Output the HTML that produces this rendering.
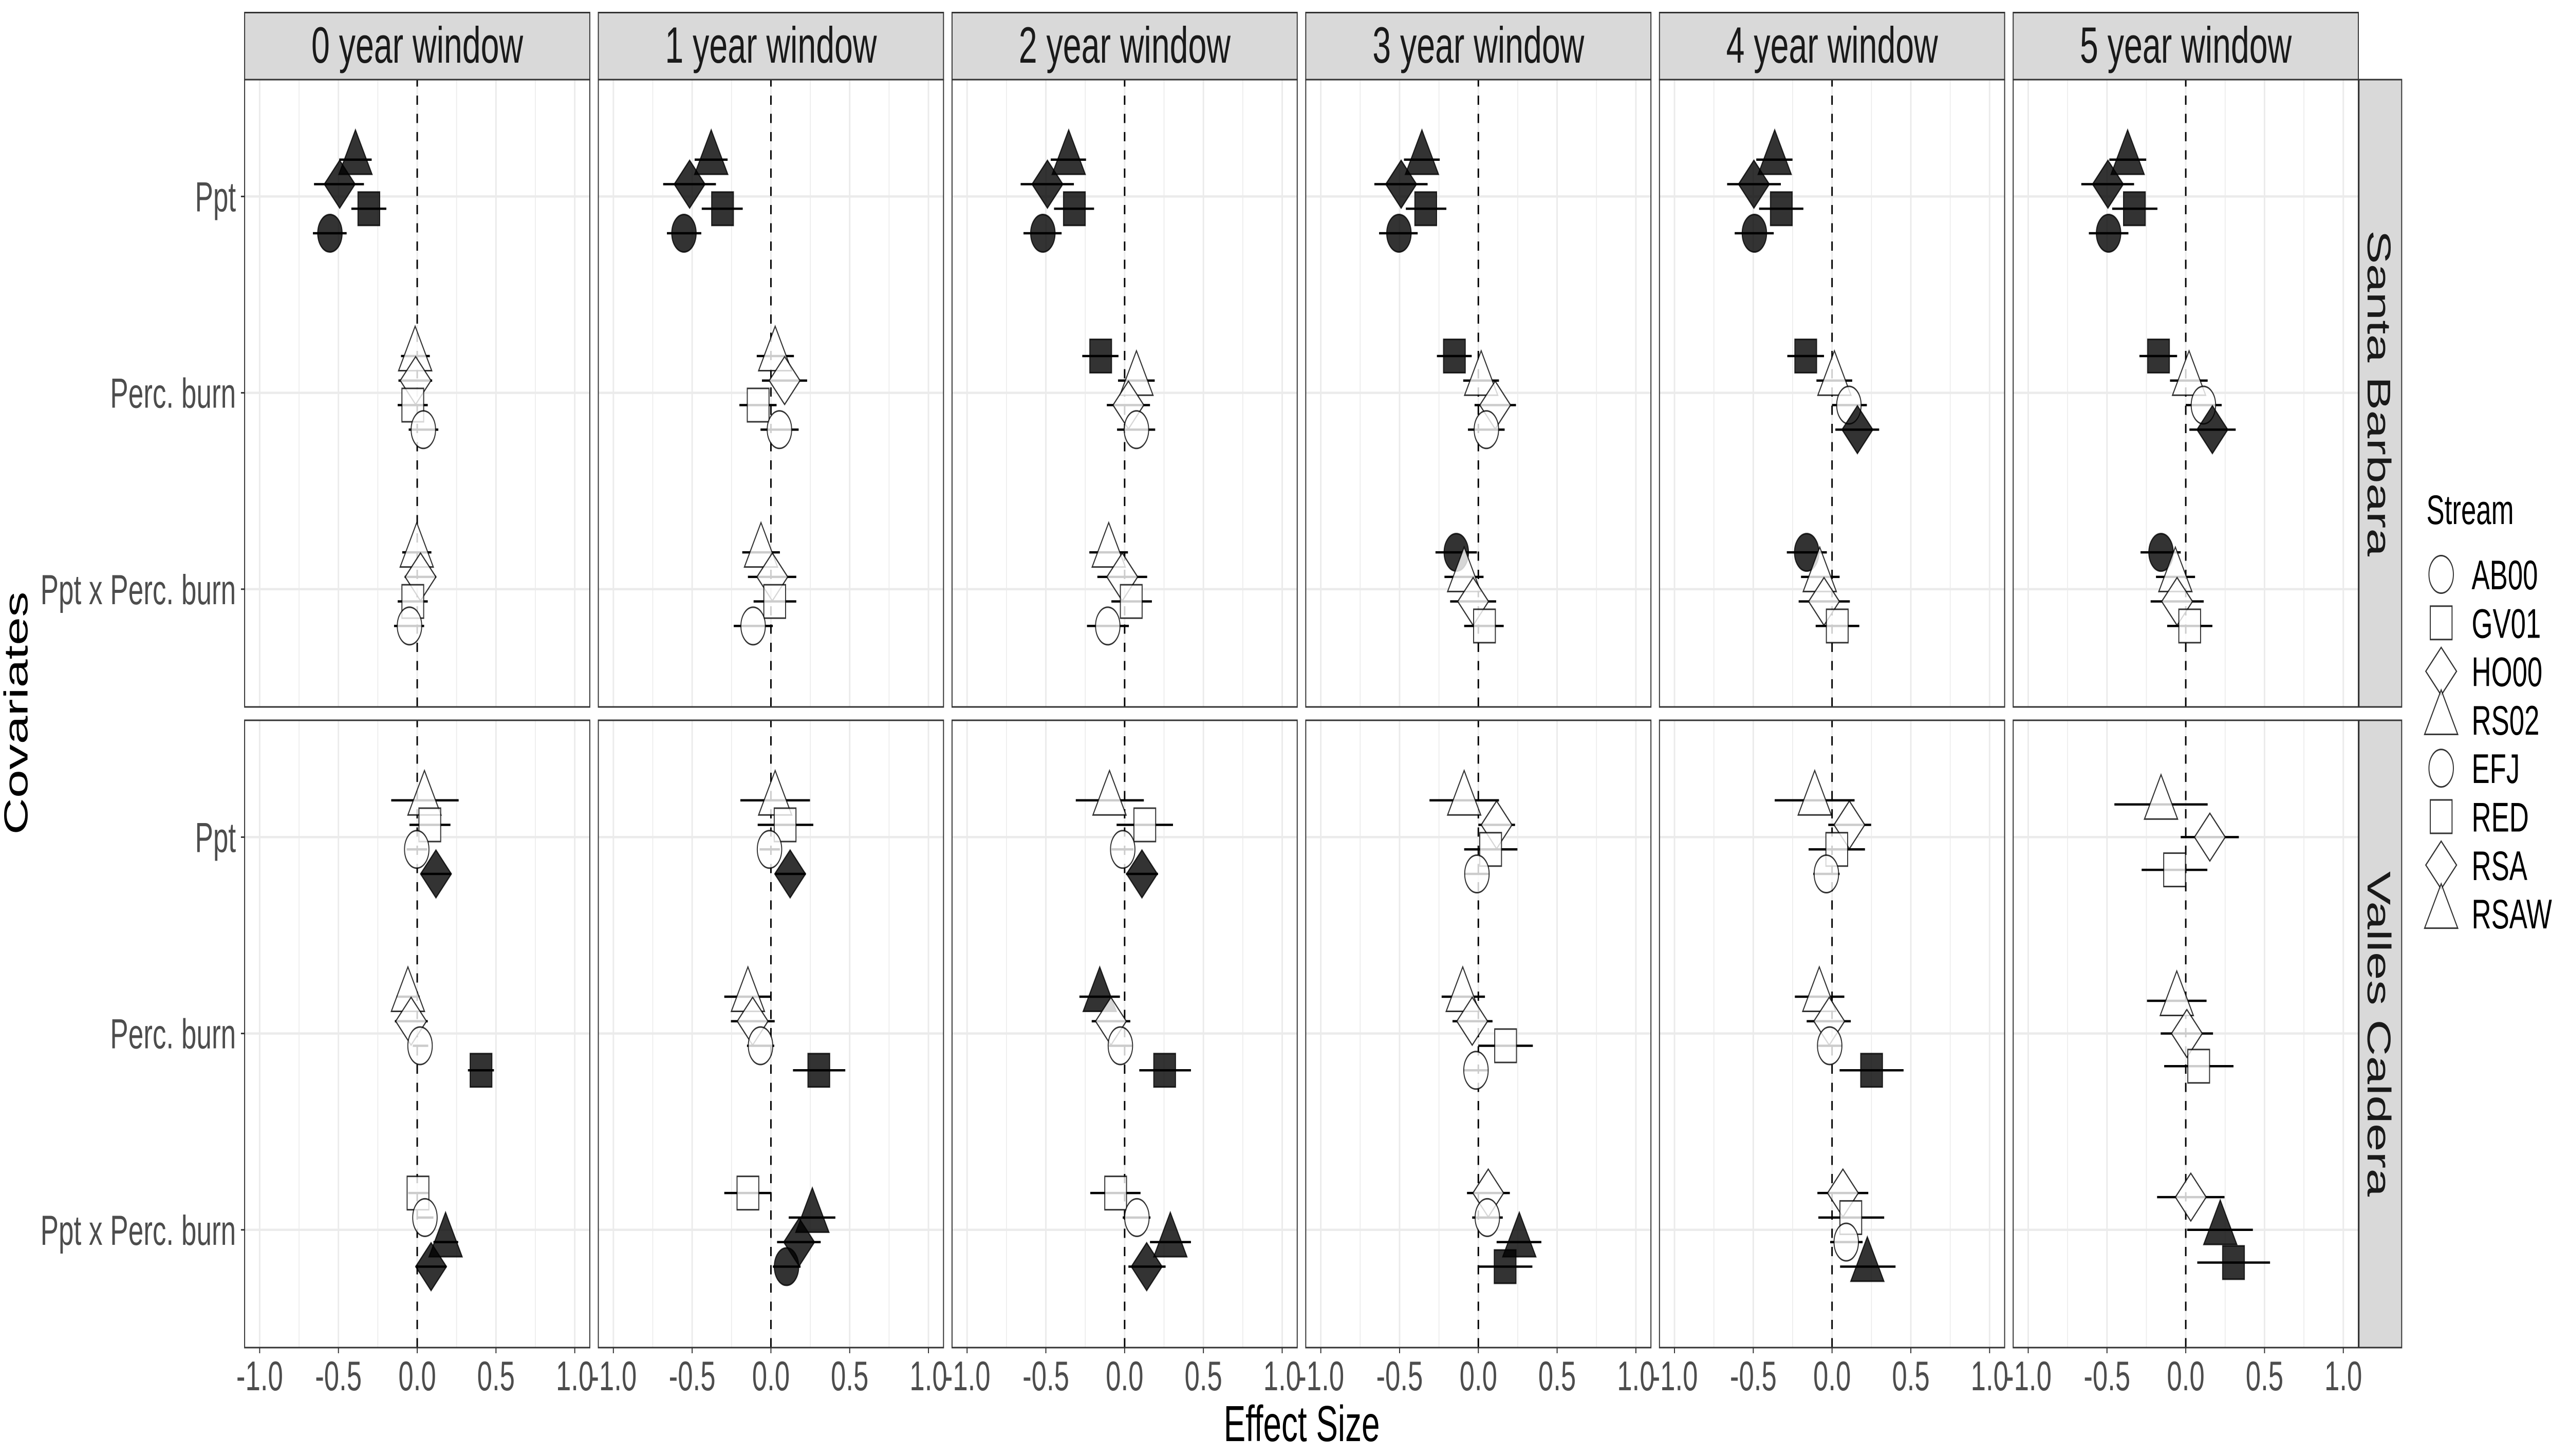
<!DOCTYPE html>
<html lang="en">
<head>
<meta charset="utf-8">
<title>Effect size by covariate, stream and window</title>
<style>
html,body{margin:0;padding:0;background:#fff;width:100%;height:100%;overflow:hidden;}
svg{display:block;width:100vw;height:100vh;}
text{font-family:"Liberation Sans",Arial,sans-serif;}
</style>
</head>
<body>
<svg id="chart" xmlns="http://www.w3.org/2000/svg" width="7677" height="2834" viewBox="0 0 7677 2834" preserveAspectRatio="none">
<rect x="0" y="0" width="7677" height="2834" fill="#ffffff"/>
<text x="3890" y="2805" font-size="98" text-anchor="middle" fill="#000">Effect Size</text>
<text transform="translate(82,1388) rotate(-90)" font-size="99" text-anchor="middle" fill="#000">Covariates</text>
<text x="7251" y="1020" font-size="81" fill="#000">Stream</text>
</svg>
<script>
const windows = ['0 year window','1 year window','2 year window','3 year window','4 year window','5 year window'];
const regions = ['Santa Barbara','Valles Caldera'];
const covariates = ['Ppt','Perc. burn','Ppt x Perc. burn'];
const xMajorTicks = [-1,-0.5,0,0.5,1];
const xMinorTicks = [-0.75,-0.25,0.25,0.75];
const legendStreams = ['AB00','GV01','HO00','RS02','EFJ','RED','RSA','RSAW'];
const streamShapes = {AB00:'circle',GV01:'square',HO00:'diamond',RS02:'triangle',EFJ:'circle',RED:'square',RSA:'diamond',RSAW:'triangle'};

/* Each row: stream, significant (1 = filled), estimate, lower, upper. Rows are top-to-bottom within a covariate. */
const santaBarbara0 = [
 [['RS02',1,-0.392,-0.495,-0.289],['HO00',1,-0.492,-0.655,-0.338],['GV01',1,-0.307,-0.418,-0.196],['AB00',1,-0.554,-0.662,-0.448]],
 [['RS02',0,-0.013,-0.103,0.08],['HO00',0,-0.01,-0.119,0.095],['GV01',0,-0.028,-0.124,0.067],['AB00',0,0.039,-0.054,0.134]],
 [['RS02',0,-0.003,-0.095,0.09],['HO00',0,0.021,-0.08,0.121],['GV01',0,-0.028,-0.124,0.067],['AB00',0,-0.049,-0.147,0.044]]
];
const santaBarbara1 = [
 [['RS02',1,-0.379,-0.484,-0.275],['HO00',1,-0.516,-0.684,-0.349],['GV01',1,-0.307,-0.439,-0.179],['AB00',1,-0.552,-0.66,-0.442]],
 [['RS02',0,0.027,-0.09,0.146],['HO00',0,0.087,-0.057,0.23],['GV01',0,-0.081,-0.2,0.036],['AB00',0,0.054,-0.066,0.176]],
 [['RS02',0,-0.063,-0.182,0.057],['HO00',0,0.009,-0.146,0.161],['GV01',0,0.024,-0.11,0.161],['AB00',0,-0.113,-0.236,0.012]]
];
const santaBarbara2 = [
 [['RS02',1,-0.355,-0.469,-0.245],['HO00',1,-0.49,-0.66,-0.322],['GV01',1,-0.319,-0.448,-0.194],['AB00',1,-0.519,-0.642,-0.4]],
 [['GV01',1,-0.152,-0.269,-0.039],['RS02',0,0.075,-0.042,0.191],['HO00',0,0.024,-0.113,0.161],['AB00',0,0.075,-0.048,0.194]],
 [['RS02',0,-0.101,-0.224,0.021],['HO00',0,-0.015,-0.173,0.143],['GV01',0,0.042,-0.084,0.173],['AB00',0,-0.107,-0.239,0.027]]
];
const santaBarbara3 = [
 [['RS02',1,-0.358,-0.472,-0.245],['HO00',1,-0.49,-0.66,-0.322],['GV01',1,-0.334,-0.46,-0.203],['AB00',1,-0.504,-0.63,-0.385]],
 [['GV01',1,-0.152,-0.263,-0.042],['RS02',0,0.018,-0.096,0.131],['HO00',0,0.107,-0.024,0.239],['AB00',0,0.051,-0.066,0.167]],
 [['AB00',1,-0.14,-0.272,-0.009],['RS02',0,-0.09,-0.215,0.033],['HO00',0,-0.033,-0.179,0.113],['GV01',0,0.039,-0.09,0.161]]
];
const santaBarbara4 = [
 [['RS02',1,-0.364,-0.481,-0.251],['HO00',1,-0.496,-0.666,-0.325],['GV01',1,-0.322,-0.463,-0.182],['AB00',1,-0.493,-0.618,-0.37]],
 [['GV01',1,-0.167,-0.284,-0.051],['RS02',0,0.015,-0.099,0.128],['AB00',0,0.107,0,0.221],['HO00',1,0.161,0.021,0.299]],
 [['AB00',1,-0.161,-0.287,-0.033],['RS02',0,-0.078,-0.197,0.048],['HO00',0,-0.051,-0.212,0.113],['GV01',0,0.033,-0.104,0.173]]
];
const santaBarbara5 = [
 [['RS02',1,-0.369,-0.485,-0.251],['HO00',1,-0.494,-0.663,-0.328],['GV01',1,-0.326,-0.467,-0.18],['AB00',1,-0.49,-0.615,-0.364]],
 [['GV01',1,-0.173,-0.294,-0.055],['RS02',0,0.021,-0.1,0.139],['AB00',0,0.112,0,0.228],['HO00',1,0.169,0.023,0.317]],
 [['AB00',1,-0.157,-0.287,-0.032],['RS02',0,-0.066,-0.189,0.059],['HO00',0,-0.055,-0.223,0.114],['GV01',0,0.025,-0.118,0.169]]
];
const vallesCaldera0 = [
 [['RSAW',0,0.046,-0.165,0.263],['RED',0,0.08,-0.049,0.211],['EFJ',0,-0.003,-0.067,0.064],['RSA',1,0.119,0.023,0.216]],
 [['RSAW',0,-0.059,-0.131,0.015],['RSA',0,-0.039,-0.142,0.067],['EFJ',0,0.018,-0.028,0.07],['RED',1,0.405,0.322,0.487]],
 [['RED',0,0.005,-0.057,0.07],['EFJ',0,0.049,0.005,0.103],['RSAW',1,0.18,0.103,0.26],['RSA',1,0.088,-0.01,0.186]]
];
const vallesCaldera1 = [
 [['RSAW',0,0.027,-0.194,0.248],['RED',0,0.09,-0.084,0.269],['EFJ',0,-0.009,-0.072,0.057],['RSA',1,0.122,0.027,0.221]],
 [['RSAW',0,-0.146,-0.296,0],['RSA',0,-0.116,-0.254,0.024],['EFJ',0,-0.066,-0.152,0.021],['RED',1,0.304,0.14,0.472]],
 [['RED',0,-0.146,-0.296,0],['RSAW',1,0.263,0.113,0.409],['RSA',1,0.179,0.039,0.316],['EFJ',1,0.099,0.012,0.188]]
];
const vallesCaldera2 = [
 [['RSAW',0,-0.096,-0.31,0.122],['RED',0,0.128,-0.051,0.307],['EFJ',0,-0.012,-0.084,0.057],['RSA',1,0.11,0.009,0.212]],
 [['RSAW',1,-0.158,-0.287,-0.03],['RSA',0,-0.087,-0.209,0.036],['EFJ',0,-0.027,-0.101,0.048],['RED',1,0.254,0.093,0.421]],
 [['RED',0,-0.057,-0.218,0.101],['EFJ',0,0.078,-0.012,0.164],['RSAW',1,0.29,0.161,0.421],['RSA',1,0.14,0.024,0.26]]
];
const vallesCaldera3 = [
 [['RSAW',0,-0.09,-0.31,0.131],['RSA',0,0.116,0,0.233],['RED',0,0.078,-0.09,0.248],['EFJ',0,-0.009,-0.087,0.069]],
 [['RSAW',0,-0.099,-0.233,0.042],['RSA',0,-0.039,-0.164,0.09],['RED',0,0.173,0,0.346],['EFJ',0,-0.015,-0.093,0.063]],
 [['RSA',0,0.063,-0.072,0.2],['EFJ',0,0.057,-0.039,0.155],['RSAW',1,0.26,0.116,0.4],['RED',1,0.17,0,0.343]]
];
const vallesCaldera4 = [
 [['RSAW',0,-0.11,-0.364,0.143],['RSA',0,0.11,-0.024,0.248],['RED',0,0.03,-0.149,0.209],['EFJ',0,-0.036,-0.119,0.048]],
 [['RSAW',0,-0.081,-0.236,0.078],['RSA',0,-0.018,-0.161,0.119],['EFJ',0,-0.015,-0.09,0.063],['RED',1,0.251,0.048,0.454]],
 [['RSA',0,0.069,-0.093,0.23],['RED',0,0.119,-0.087,0.331],['EFJ',0,0.09,-0.012,0.194],['RSAW',1,0.224,0.051,0.403]]
];
const vallesCaldera5 = [
 [['RSAW',0,-0.157,-0.453,0.139],['RSA',0,0.153,-0.032,0.337],['RED',0,-0.071,-0.28,0.137]],
 [['RSAW',0,-0.057,-0.246,0.132],['RSA',0,0.007,-0.159,0.173],['RED',0,0.082,-0.137,0.303]],
 [['RSA',0,0.032,-0.182,0.246],['RSAW',1,0.219,0.009,0.426],['RED',1,0.303,0.073,0.535]]
];
const santaBarbaraPanels = [santaBarbara0,santaBarbara1,santaBarbara2,santaBarbara3,santaBarbara4,santaBarbara5];
const vallesCalderaPanels = [vallesCaldera0,vallesCaldera1,vallesCaldera2,vallesCaldera3,vallesCaldera4,vallesCaldera5];
const regionPanels = [santaBarbaraPanels,vallesCalderaPanels];

const svg = document.getElementById('chart');
const NS = 'http://www.w3.org/2000/svg';
const PANEL_W = 1031.5, PANEL_STEP = 1057, PANEL_X0 = 731;
const PANEL_TOPS = [155,1402], PANEL_H = 1221;
const UNIT = 470.8, BAND = 382.2, DODGE = 191;

function panelLeft(c){ return PANEL_X0 + c*PANEL_STEP; }
function xScale(c,v){ return panelLeft(c) + PANEL_W/2 + v*UNIT; }
function yBand(r,i){ return PANEL_TOPS[r] + (i+0.595)*BAND; }
function yDodge(r,i,k,n){ return yBand(r,i) + (k-(n-1)/2)*DODGE/n; }

function mk(tag,parent,props){
  const el = document.createElementNS(NS,tag);
  for(const key in props){ el.setAttribute(key,props[key]); }
  parent.appendChild(el);
  return el;
}
function drawShape(parent,shape,cx,cy,filled){
  const paint = {fill: filled ? 'rgba(0,0,0,0.8)' : 'rgba(255,255,255,0.8)', stroke:'rgba(0,0,0,0.8)', 'stroke-width':3};
  let el;
  if(shape==='circle'){
    el = mk('ellipse',parent,Object.assign({cx:cx,cy:cy,rx:36.5,ry:36.5},paint));
  } else if(shape==='square'){
    el = mk('rect',parent,Object.assign({x:cx-32.5,y:cy-32.5,width:65,height:65},paint));
  } else if(shape==='diamond'){
    el = mk('polygon',parent,Object.assign({points:[cx,cy-46.5,cx+46,cy,cx,cy+46.5,cx-46,cy].join(' ')},paint));
  } else {
    el = mk('polygon',parent,Object.assign({points:[cx,cy-58,cx+49.5,cy+28.5,cx-49.5,cy+28.5].join(' ')},paint));
  }
  return el;
}

regions.forEach(function(region,r){
  const top = PANEL_TOPS[r];
  /* right-hand strip */
  const rs = mk('rect',svg,{x:7049.5,y:top,width:127.5,height:PANEL_H,fill:'#d9d9d9',stroke:'#333333','stroke-width':3});
  
  
  const rt = mk('text',svg,{transform:'translate(7075,'+(top+PANEL_H/2)+') rotate(90)','font-size':98.5,'text-anchor':'middle',fill:'#1a1a1a'});
  rt.textContent = region;
  
  

  windows.forEach(function(win,c){
    const L = panelLeft(c);
    const g = mk('g',svg,{});
    
    
    const bg = mk('rect',g,{x:L,y:top,width:PANEL_W,height:PANEL_H,fill:'#ffffff'});
    
    

    xMinorTicks.forEach(function(t){
      const ln = mk('line',g,{x1:xScale(c,t),x2:xScale(c,t),y1:top,y2:top+PANEL_H,stroke:'#ebebeb','stroke-width':2.5});
      
      
    });
    xMajorTicks.forEach(function(t){
      const ln = mk('line',g,{x1:xScale(c,t),x2:xScale(c,t),y1:top,y2:top+PANEL_H,stroke:'#ebebeb','stroke-width':4.5});
      
      
    });
    covariates.forEach(function(cov,i){
      const ln = mk('line',g,{x1:L,x2:L+PANEL_W,y1:yBand(r,i),y2:yBand(r,i),stroke:'#ebebeb','stroke-width':4.5});
      
      
    });

    const zero = mk('line',g,{x1:xScale(c,0),x2:xScale(c,0),y1:top,y2:top+PANEL_H,stroke:'#000000','stroke-width':4.5,'stroke-dasharray':'18 17.5','stroke-dashoffset':4.5});
    
    

    const groups = regionPanels[r][c];
    groups.forEach(function(rows,i){
      rows.forEach(function(row,k){
        const y = yDodge(r,i,k,rows.length);
        const bar = mk('line',g,{x1:xScale(c,row[3]),x2:xScale(c,row[4]),y1:y,y2:y,stroke:'#000000','stroke-width':4.5});
        
        
      });
    });
    groups.forEach(function(rows,i){
      rows.forEach(function(row,k){
        const y = yDodge(r,i,k,rows.length);
        const pt = drawShape(g,streamShapes[row[0]],xScale(c,row[2]),y,row[1]===1);
        
        
      });
    });

    const border = mk('rect',g,{x:L,y:top,width:PANEL_W,height:PANEL_H,fill:'none',stroke:'#333333','stroke-width':3});
    
    

    if(r===0){
      const st = mk('rect',svg,{x:L,y:24.5,width:PANEL_W,height:130.5,fill:'#d9d9d9',stroke:'#333333','stroke-width':3});
      
      
      const stt = mk('text',svg,{x:L+PANEL_W/2,y:122,'font-size':99,'text-anchor':'middle',fill:'#1a1a1a'});
      stt.textContent = win;
      
      
    }
    if(r===1){
      xMajorTicks.forEach(function(t){
        const tk = mk('line',svg,{x1:xScale(c,t),x2:xScale(c,t),y1:top+PANEL_H,y2:top+PANEL_H+11,stroke:'#333333','stroke-width':3});
        
        
        const tl = mk('text',svg,{x:xScale(c,t),y:2706,'font-size':81,'text-anchor':'middle',fill:'#4d4d4d'});
        tl.textContent = t.toFixed(1);
        
        
      });
    }
  });

  covariates.forEach(function(cov,i){
    const tk = mk('line',svg,{x1:720,x2:731,y1:yBand(r,i),y2:yBand(r,i),stroke:'#333333','stroke-width':3});
    
    
    const tl = mk('text',svg,{x:705,y:yBand(r,i)+29,'font-size':81.5,'text-anchor':'end',fill:'#4d4d4d'});
    tl.textContent = cov;
    
    
  });
});

legendStreams.forEach(function(name,i){
  const y = 1118 + i*94.3;
  const g = mk('g',svg,{});
  
  
  const key = drawShape(g,streamShapes[name],7295,y,false);
  
  
  const lb = mk('text',g,{x:7386,y:y+29,'font-size':81,fill:'#000000'});
  lb.textContent = name;
  
  
});
</script>
</body>
</html>
